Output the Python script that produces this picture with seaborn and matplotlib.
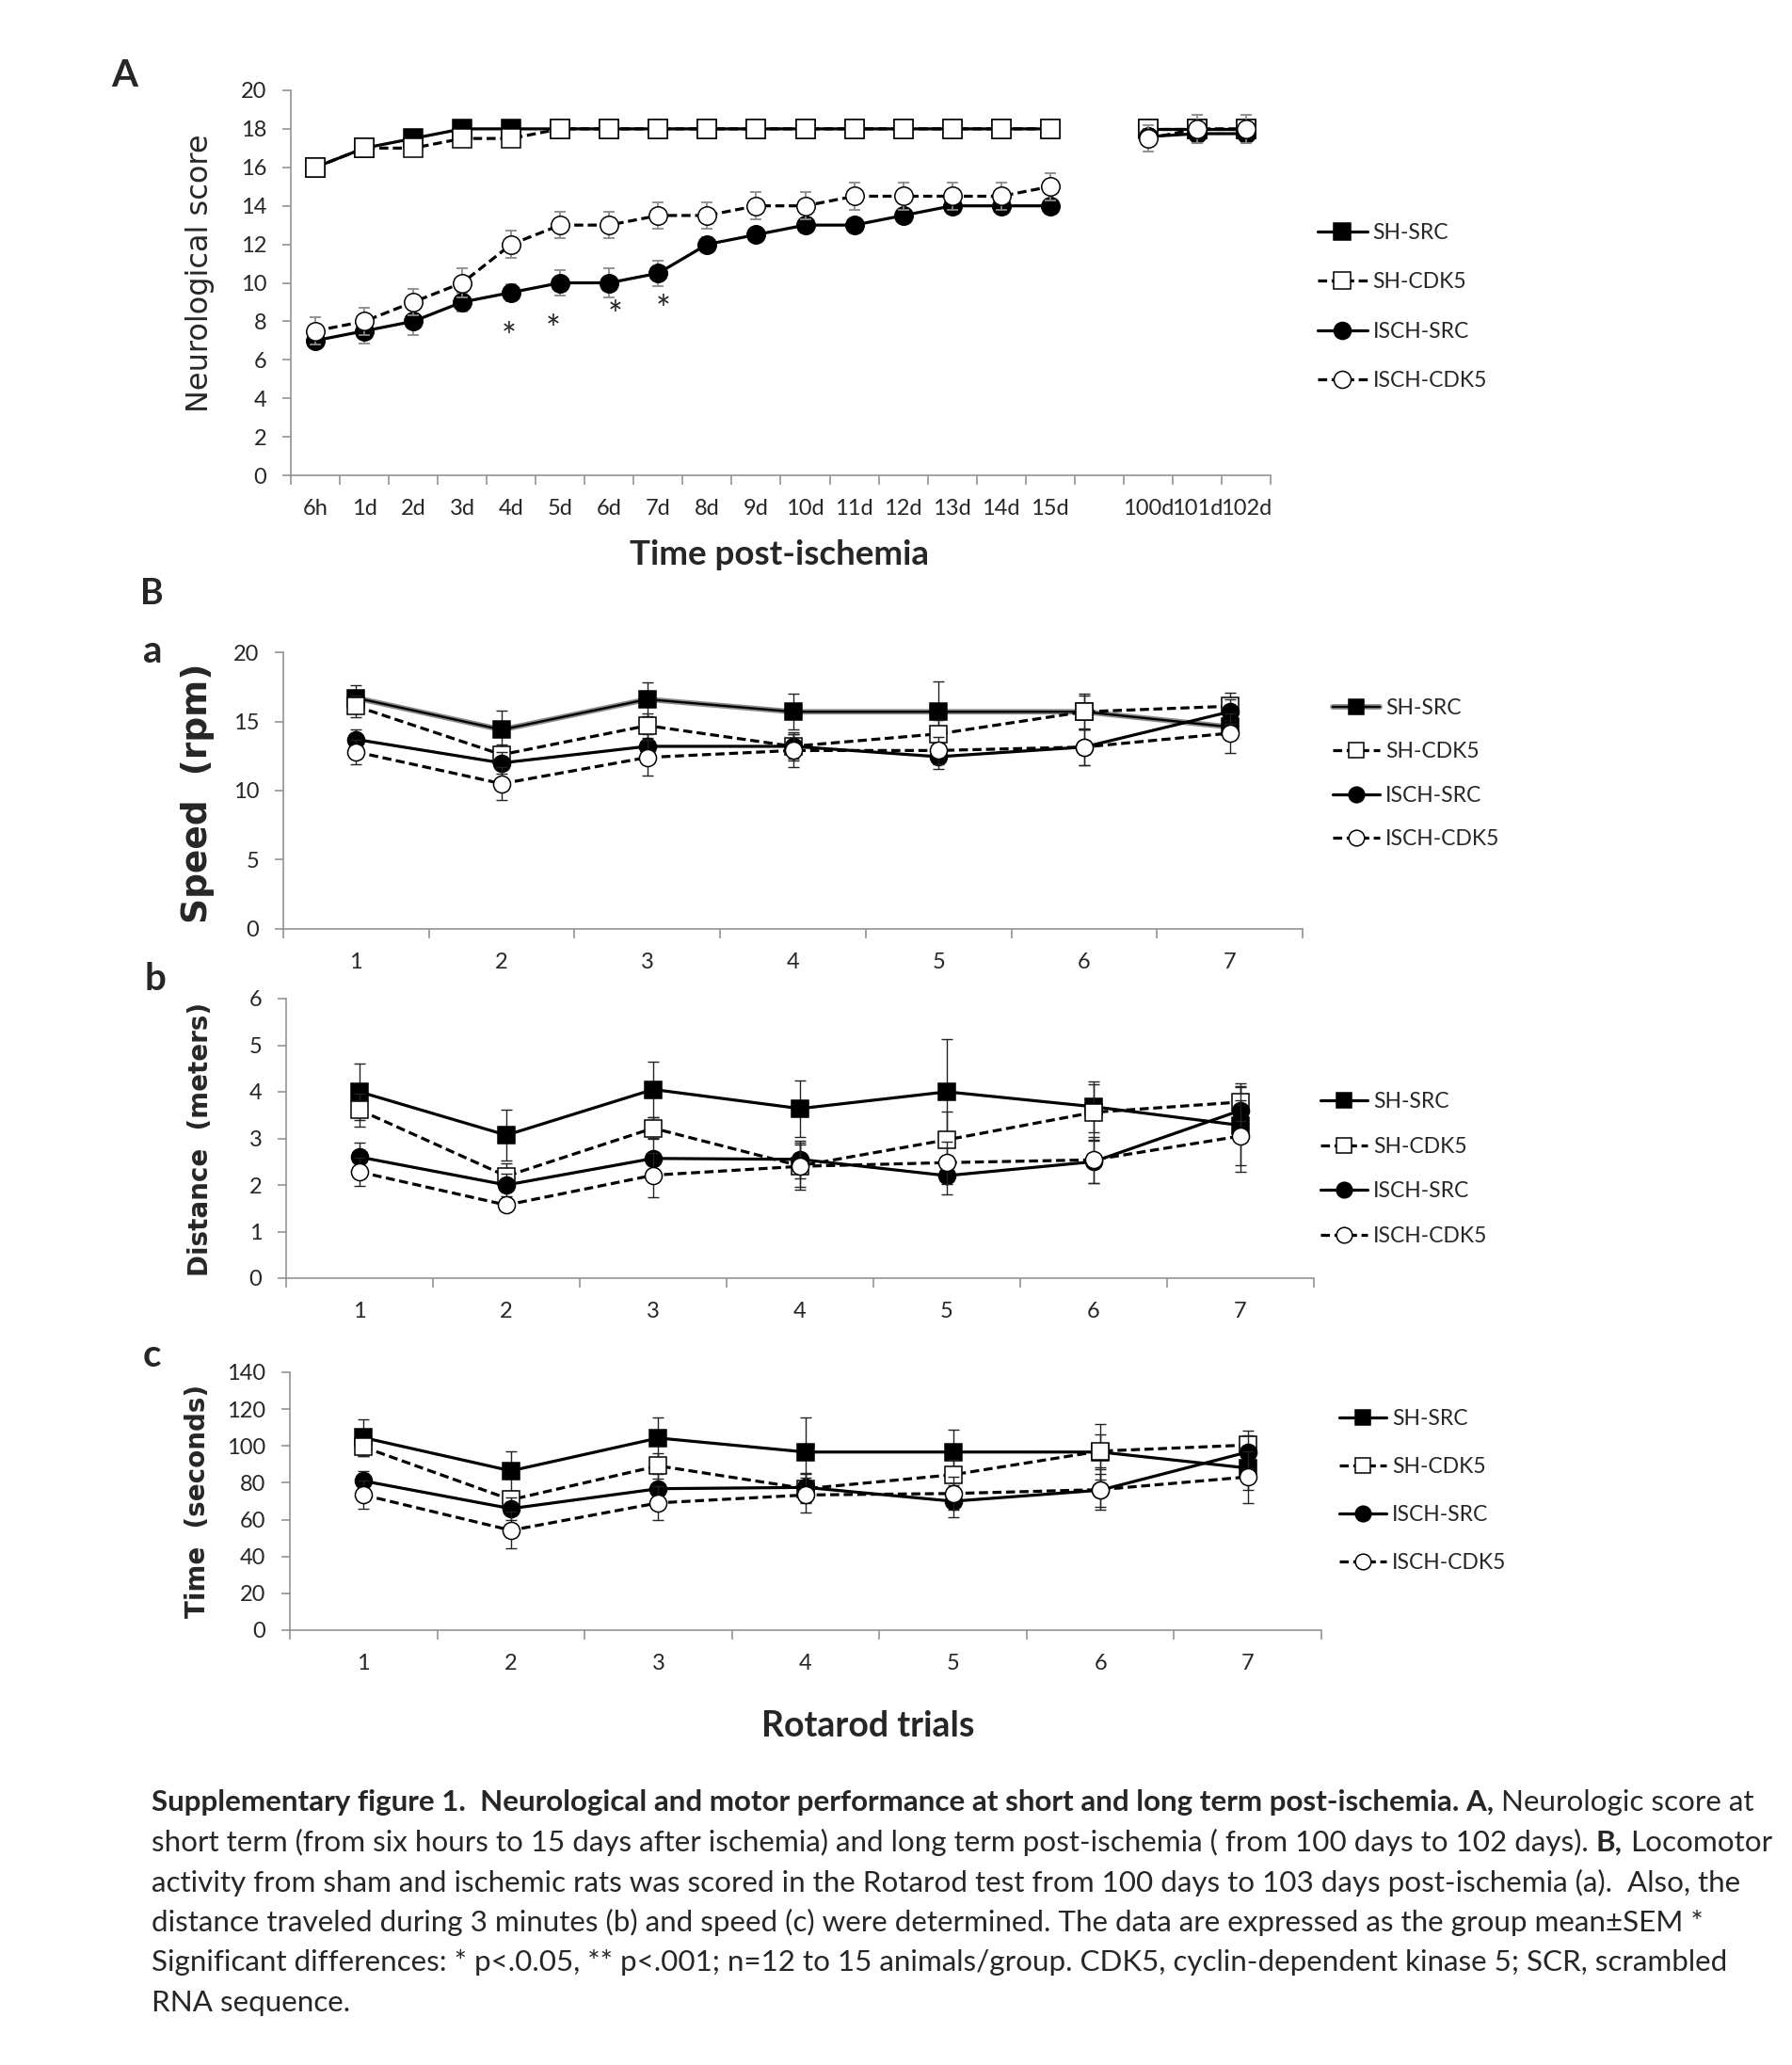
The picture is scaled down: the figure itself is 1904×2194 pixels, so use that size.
import numpy as np
import pandas as pd
import matplotlib
matplotlib.use("Agg")
import matplotlib.pyplot as plt
from matplotlib.lines import Line2D
import seaborn as sns

# ---------------- data ----------------
groups = ["SH-SRC", "SH-CDK5", "ISCH-SRC", "ISCH-CDK5"]

# Panel A: neurological score
time_short = ["6h", "1d", "2d", "3d", "4d", "5d", "6d", "7d", "8d", "9d",
              "10d", "11d", "12d", "13d", "14d", "15d"]
time_long = ["100d", "101d", "102d"]

score_short = {
    "SH-SRC":    [16, 17, 17.5, 18, 18, 18, 18, 18, 18, 18, 18, 18, 18, 18, 18, 18],
    "SH-CDK5":   [16, 17, 17, 17.5, 17.5, 18, 18, 18, 18, 18, 18, 18, 18, 18, 18, 18],
    "ISCH-SRC":  [7, 7.5, 8, 9, 9.5, 10, 10, 10.5, 12, 12.5, 13, 13, 13.5, 14, 14, 14],
    "ISCH-CDK5": [7.5, 8, 9, 10, 12, 13, 13, 13.5, 13.5, 14, 14, 14.5, 14.5, 14.5, 14.5, 15],
}
score_short_sem = {
    "SH-SRC":    [0.3, 0.3, 0.3, 0.2, 0.2, 0.1, 0.1, 0.1, 0.1, 0.1, 0.1, 0.1, 0.1, 0.1, 0.1, 0.1],
    "SH-CDK5":   [0.3, 0.3, 0.3, 0.3, 0.3, 0.1, 0.1, 0.1, 0.1, 0.1, 0.1, 0.1, 0.1, 0.1, 0.1, 0.1],
    "ISCH-SRC":  [0.4, 0.65, 0.7, 0.5, 0.45, 0.65, 0.75, 0.65, 0.35, 0.35, 0.3, 0.3, 0.3, 0.3, 0.3, 0.3],
    "ISCH-CDK5": [0.7, 0.7, 0.7, 0.75, 0.7, 0.7, 0.7, 0.7, 0.7, 0.7, 0.7, 0.7, 0.7, 0.7, 0.7, 0.7],
}
score_long = {
    "SH-SRC":    [18, 18, 18],
    "SH-CDK5":   [18, 18, 18],
    "ISCH-SRC":  [17.6, 17.75, 17.75],
    "ISCH-CDK5": [17.5, 18, 18],
}
score_long_sem = {
    "SH-SRC":    [0.3, 0.3, 0.3],
    "SH-CDK5":   [0.3, 0.3, 0.3],
    "ISCH-SRC":  [0.4, 0.5, 0.5],
    "ISCH-CDK5": [0.7, 0.75, 0.75],
}
star_days = ["4d", "5d", "6d", "7d"]

# Panel B: rotarod trials
trials = [1, 2, 3, 4, 5, 6, 7]

speed = {
    "SH-SRC":    [16.7, 14.4, 16.6, 15.7, 15.7, 15.7, 14.6],
    "SH-CDK5":   [16.1, 12.6, 14.7, 13.2, 14.1, 15.7, 16.1],
    "ISCH-SRC":  [13.7, 12.0, 13.2, 13.2, 12.45, 13.15, 15.7],
    "ISCH-CDK5": [12.8, 10.5, 12.4, 12.9, 12.9, 13.15, 14.15],
}
speed_sem = {
    "SH-SRC":    [0.95, 1.35, 1.25, 1.3, 2.2, 1.3, 0.8],
    "SH-CDK5":   [0.8, 0.7, 0.9, 1.0, 1.0, 1.2, 1.0],
    "ISCH-SRC":  [0.7, 0.8, 0.9, 0.9, 0.9, 1.3, 0.9],
    "ISCH-CDK5": [0.9, 1.2, 1.3, 1.2, 1.0, 1.3, 1.4],
}

distance = {
    "SH-SRC":    [4.0, 3.07, 4.05, 3.64, 4.0, 3.68, 3.28],
    "SH-CDK5":   [3.61, 2.19, 3.22, 2.41, 2.97, 3.56, 3.78],
    "ISCH-SRC":  [2.6, 2.0, 2.57, 2.55, 2.2, 2.5, 3.6],
    "ISCH-CDK5": [2.28, 1.57, 2.21, 2.4, 2.48, 2.54, 3.05],
}
distance_sem = {
    "SH-SRC":    [0.6, 0.55, 0.6, 0.6, 1.13, 0.55, 0.85],
    "SH-CDK5":   [0.35, 0.28, 0.23, 0.45, 0.6, 0.6, 0.4],
    "ISCH-SRC":  [0.3, 0.25, 0.45, 0.4, 0.4, 0.45, 0.5],
    "ISCH-CDK5": [0.3, 0.1, 0.47, 0.5, 0.45, 0.5, 0.76],
}

time_sec = {
    "SH-SRC":    [104.5, 86.5, 104.3, 96.7, 96.7, 96.7, 88.0],
    "SH-CDK5":   [99.4, 70.8, 89.2, 76.8, 84.4, 97.2, 100.5],
    "ISCH-SRC":  [81.0, 66.0, 76.8, 77.5, 70.0, 76.0, 96.7],
    "ISCH-CDK5": [73.4, 54.2, 69.1, 73.4, 74.2, 76.3, 83.2],
}
time_sec_sem = {
    "SH-SRC":    [10, 10.7, 11, 19, 12, 15, 12],
    "SH-CDK5":   [5, 5, 7, 8, 8, 9, 8],
    "ISCH-SRC":  [5.5, 6, 8, 8, 8.5, 9, 9],
    "ISCH-CDK5": [7.7, 10, 9.3, 9.4, 9, 11, 14],
}

caption_lines = [
    [("Supplementary figure 1.  Neurological and motor performance at short and long term post-ischemia. A,", "bold"),
     ("Neurologic score at", "normal")],
    [("short term (from six hours to 15 days after ischemia) and long term post-ischemia ( from 100 days to 102 days).", "normal"),
     ("B,", "bold"), ("Locomotor", "normal")],
    [("activity from sham and ischemic rats was scored in the Rotarod test from 100 days to 103 days post-ischemia (a).  Also, the", "normal")],
    [("distance traveled during 3 minutes (b) and speed (c) were determined. The data are expressed as the group mean\u00b1SEM *", "normal")],
    [("Significant differences: * p<.0.05, ** p<.001; n=12 to 15 animals/group. CDK5, cyclin-dependent kinase 5; SCR, scrambled", "normal")],
    [("RNA sequence.", "normal")],
]

# ---------------- style ----------------
sns.set_style("ticks")
plt.rcParams["font.family"] = ["Lato", "DejaVu Sans"]

W, H = 1904, 2194
GRAY = "#8a8a8a"
TICK_SIZE = 17
STYLE = {
    "SH-SRC":    dict(marker="s", mfc="black", ls="-"),
    "SH-CDK5":   dict(marker="s", mfc="white", ls=(0, (3, 1.5))),
    "ISCH-SRC":  dict(marker="o", mfc="black", ls="-"),
    "ISCH-CDK5": dict(marker="o", mfc="white", ls=(0, (3, 1.5))),
}

fig = plt.figure(figsize=(W / 100, H / 100), dpi=100)
fig.patch.set_facecolor("white")


def add_axes(left, right, top, bottom):
    return fig.add_axes([left / W, 1 - bottom / H, (right - left) / W, (bottom - top) / H])


def style_axes(ax, n_cat, start, labels, ylim, yticks):
    ax.set_xlim(start - 0.5, start + n_cat - 0.5)
    ax.set_ylim(*ylim)
    ax.set_yticks(yticks)
    ax.set_xticks(np.arange(n_cat + 1) + start - 0.5)
    ax.set_xticklabels([])
    centers = [c for c, lab in zip(np.arange(n_cat) + start, labels) if lab != ""]
    ax.set_xticks(centers, minor=True)
    ax.set_xticklabels([lab for lab in labels if lab != ""], minor=True)
    ax.tick_params(axis="x", which="major", length=7, width=1.1, color=GRAY, direction="out")
    ax.tick_params(axis="x", which="minor", length=0, pad=18, labelsize=TICK_SIZE)
    ax.tick_params(axis="y", length=6.5, width=1.1, color=GRAY, direction="out", pad=12,
                   labelsize=TICK_SIZE)
    for s in ["top", "right"]:
        ax.spines[s].set_visible(False)
    for s in ["left", "bottom"]:
        ax.spines[s].set_color(GRAY)
        ax.spines[s].set_linewidth(1.1)
    ax.set_xlabel("")
    ax.set_ylabel("")


def draw_group(ax, x, y, err, seg, name, ms, ecolor, elw, cap, z, underlay=False):
    st = STYLE[name]
    df = pd.DataFrame({"x": x, "y": y, "seg": seg})
    ax.errorbar(x, y, yerr=err, fmt="none", ecolor=ecolor, elinewidth=elw,
                capsize=cap, capthick=elw, zorder=z)
    if underlay:
        sns.lineplot(data=df, x="x", y="y", units="seg", estimator=None, ax=ax,
                     color="#8c8c8c", linewidth=4.2, zorder=z + 0.1)
    sns.lineplot(data=df, x="x", y="y", units="seg", estimator=None, ax=ax,
                 color="black", linewidth=1.7 if underlay else 2.3, linestyle=st["ls"],
                 marker=st["marker"], markersize=ms, markerfacecolor=st["mfc"],
                 markeredgecolor="black", markeredgewidth=1.1, zorder=z + 0.2)


def add_legend(ax, x_px, y_px, ms, spacing, handlelen, underlay=False):
    handles = []
    for name in groups:
        st = STYLE[name]
        h = Line2D([], [], color="black", lw=1.7 if (underlay and name == "SH-SRC") else 2.3,
                   ls=st["ls"], marker=st["marker"], ms=ms, mfc=st["mfc"],
                   mec="black", mew=1.1)
        if underlay and name == "SH-SRC":
            h = (Line2D([], [], color="#8c8c8c", lw=4.2), h)
        handles.append(h)
    ax.legend(handles, groups, loc="center left", bbox_to_anchor=(x_px / W, 1 - y_px / H),
              bbox_transform=fig.transFigure, frameon=False, fontsize=16.5,
              handlelength=handlelen, handletextpad=0.25, labelspacing=spacing,
              borderpad=0, borderaxespad=0)


# ---------------- panel A ----------------
axA = add_axes(309, 1350, 96, 505)
time_labels = time_short + [""] + time_long
pos_short = list(range(len(time_short)))
pos_long = list(range(len(time_short) + 1, len(time_labels)))
for i, name in enumerate(groups):
    x = pos_short + pos_long
    y = score_short[name] + score_long[name]
    e = score_short_sem[name] + score_long_sem[name]
    seg = [0] * len(pos_short) + [1] * len(pos_long)
    draw_group(axA, x, y, e, seg, name, ms=14, ecolor=GRAY, elw=1.3, cap=4.5, z=2 + i)
style_axes(axA, len(time_labels), 0, time_labels, (0, 20), np.arange(0, 21, 2))
for d, dx, yv in zip(star_days, [-0.05, -0.15, 0.12, 0.1], [7.1, 7.5, 8.2, 8.5]):
    axA.text(time_short.index(d) + dx, yv, "*", ha="center", va="center", fontsize=27)
axA.set_ylabel("Neurological score", family="DejaVu Sans", fontsize=23, va="center")
axA.yaxis.set_label_coords(213 / W, 1 - 290 / H, transform=fig.transFigure)
axA.set_xlabel("Time post-ischemia", fontsize=26.5, fontweight="bold", va="center")
axA.xaxis.set_label_coords(828 / W, 1 - 589 / H, transform=fig.transFigure)
add_legend(axA, 1400, 326, ms=13, spacing=1.38, handlelen=2.3)

# ---------------- panel B ----------------
panels = [
    (speed, speed_sem, (301, 1384, 693, 987), (0, 20), np.arange(0, 21, 5),
     "Speed  (rpm)", 27, (210, 843), (1416, 822), 1.1, True),
    (distance, distance_sem, (304, 1396, 1061, 1358), (0, 6), np.arange(0, 7, 1),
     "Distance  (meters)", 20, (213, 1210), (1403, 1242), 1.15, False),
    (time_sec, time_sec_sem, (308, 1404, 1458, 1732), (0, 140), np.arange(0, 141, 20),
     "Time  (seconds)", 20, (210, 1595), (1423, 1584), 1.3, False),
]
axes_B = []
for data, sem, rect, ylim, yticks, ylab, ysize, ypos, legpos, spacing, under in panels:
    ax = add_axes(*rect)
    for i, name in enumerate(groups):
        draw_group(ax, trials, data[name], sem[name], [0] * len(trials), name,
                   ms=13, ecolor="#222222", elw=1.0, cap=4, z=2 + i,
                   underlay=(under and name == "SH-SRC"))
    style_axes(ax, len(trials), 1, [str(t) for t in trials], ylim, yticks)
    ax.set_ylabel(ylab, family="DejaVu Sans", fontweight="bold", fontsize=ysize, va="center")
    ax.yaxis.set_label_coords(ypos[0] / W, 1 - ypos[1] / H, transform=fig.transFigure)
    add_legend(ax, legpos[0], legpos[1], ms=12, spacing=spacing, handlelen=2.2, underlay=under)
    axes_B.append(ax)

axes_B[-1].set_xlabel("Rotarod trials", fontsize=27, fontweight="bold", va="center")
axes_B[-1].xaxis.set_label_coords(922 / W, 1 - 1834 / H, transform=fig.transFigure)

# panel letters
for txt, x, y, size in [("A", 132, 80, 29), ("B", 161, 631, 27), ("a", 162, 692, 29),
                        ("b", 165, 1040, 29), ("c", 161, 1441, 29)]:
    fig.text(x / W, 1 - y / H, txt, fontsize=size, fontweight="bold", ha="center", va="center")

# ---------------- caption ----------------
renderer = fig.canvas.get_renderer()
CAP_SIZE = 22.6


def text_width(s, weight):
    t = fig.text(0, 0, s, fontsize=CAP_SIZE, fontweight=weight)
    w = t.get_window_extent(renderer=renderer).width
    t.remove()
    return w


space_w = text_width("n n", "normal") - text_width("nn", "normal")
y_px = 1915
for line in caption_lines:
    x_px = 161
    for k, (s, weight) in enumerate(line):
        if k > 0:
            x_px += space_w
        fig.text(x_px / W, 1 - y_px / H, s, fontsize=CAP_SIZE, fontweight=weight,
                 ha="left", va="center")
        x_px += text_width(s, weight)
    y_px += 42.6

fig.savefig("out.png", dpi=100, facecolor="white")
